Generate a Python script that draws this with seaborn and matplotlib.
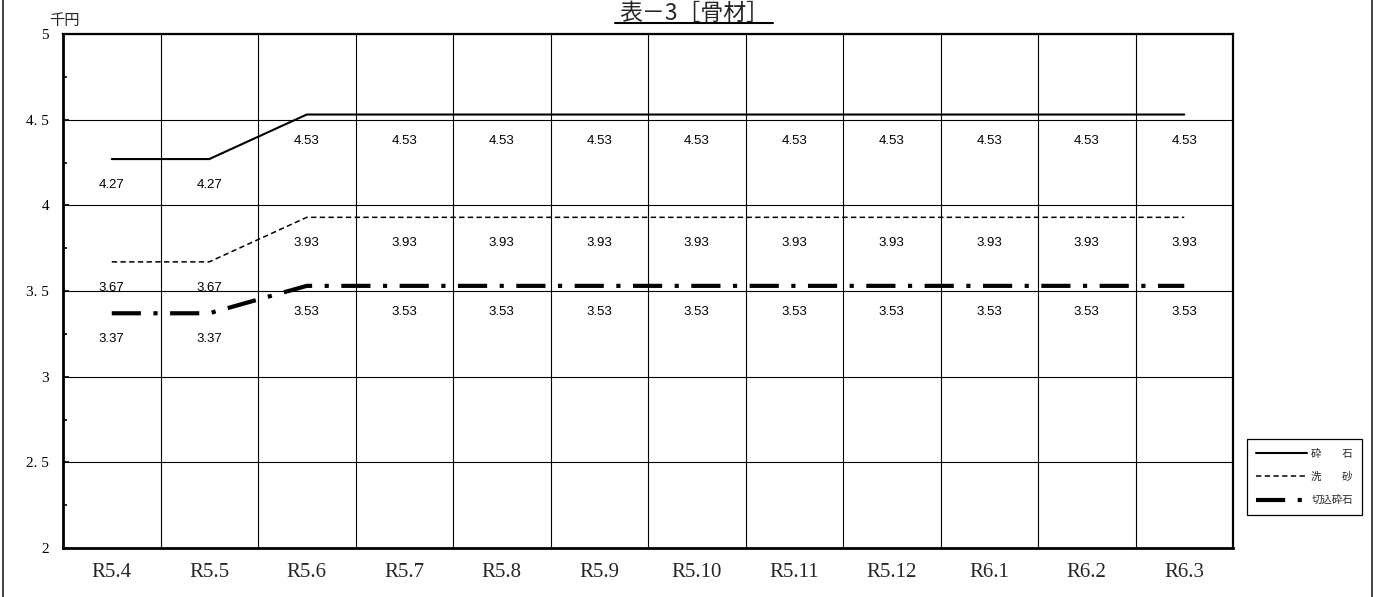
import matplotlib
matplotlib.use("Agg")
import matplotlib.pyplot as plt
from matplotlib.lines import Line2D
from matplotlib.font_manager import FontProperties
from matplotlib.ticker import FixedLocator
import pandas as pd
import seaborn as sns

# ---- data ----
months = ["R5.4", "R5.5", "R5.6", "R5.7", "R5.8", "R5.9",
          "R5.10", "R5.11", "R5.12", "R6.1", "R6.2", "R6.3"]
saiseki = [4.27, 4.27, 4.53, 4.53, 4.53, 4.53, 4.53, 4.53, 4.53, 4.53, 4.53, 4.53]
arasuna = [3.67, 3.67, 3.93, 3.93, 3.93, 3.93, 3.93, 3.93, 3.93, 3.93, 3.93, 3.93]
kirikomi = [3.37, 3.37, 3.53, 3.53, 3.53, 3.53, 3.53, 3.53, 3.53, 3.53, 3.53, 3.53]
series_names = ["砕　　石", "洗　　砂", "切込砕石"]
y_ticks = [2, 2.5, 3, 3.5, 4, 4.5, 5]
y_tick_labels = ["2", "2. 5", "3", "3. 5", "4", "4. 5", "5"]
title_text = "表－3［骨材］"
unit_text = "千円"

frames = []
for name, vals in zip(series_names, [saiseki, arasuna, kirikomi]):
    frames.append(pd.DataFrame({"pos": range(len(months)), "value": vals,
                                "series": name}))
df = pd.concat(frames, ignore_index=True)

sns.set_style("ticks")
plt.rcParams["font.family"] = ["Noto Sans CJK JP", "DejaVu Sans"]

W, H = 1380, 597
fig = plt.figure(figsize=(W / 100, H / 100), dpi=100)
ax = fig.add_axes([63 / W, 1 - 548 / H, (1233 - 63) / W, (548 - 34) / H])

line_styles = {
    series_names[0]: dict(lw=1.5, linestyle="-"),
    series_names[1]: dict(lw=1.1, linestyle=(0, (3.5, 2.2))),
    series_names[2]: dict(lw=3.0, linestyle=(0, (7, 3, 1, 3))),
}

for name in series_names:
    sub = df[df["series"] == name]
    sns.lineplot(data=sub, x="pos", y="value", ax=ax, color="black",
                 label=name, sort=False, **line_styles[name])
    for p, v in zip(sub["pos"], sub["value"]):
        ax.annotate(f"{v:.2f}", (p, v), xytext=(0, -26),
                    textcoords="offset pixels", ha="center", va="center",
                    fontsize=9.5, family="Liberation Sans", color="black")

ax.set_xlim(-0.5, len(months) - 0.5)
ax.set_ylim(2, 5)
ax.set_xlabel("")
ax.set_ylabel("")

# x axis: labels at category centres, grid at category boundaries
ax.set_xticks(range(len(months)))
ax.set_xticklabels(months, family="Liberation Serif", fontsize=15)
ax.xaxis.set_minor_locator(FixedLocator([i + 0.5 for i in range(len(months) - 1)]))
ax.tick_params(axis="x", which="major", length=0, pad=11)
ax.tick_params(axis="x", which="minor", length=0)
ax.grid(axis="x", which="minor", color="black", lw=0.8)

# y axis
ax.set_yticks(y_ticks)
ax.set_yticklabels(y_tick_labels, family="Liberation Serif", fontsize=11)
ax.yaxis.set_minor_locator(FixedLocator([2.25, 2.75, 3.25, 3.75, 4.25, 4.75]))
ax.tick_params(axis="y", which="major", direction="in", length=4, width=1.2,
               pad=10, colors="black")
ax.tick_params(axis="y", which="minor", direction="in", length=3, width=1.2,
               colors="black")
ax.grid(axis="y", which="major", color="black", lw=0.8)
ax.set_axisbelow(True)

for side in ["left", "right", "top", "bottom"]:
    ax.spines[side].set_visible(True)
    ax.spines[side].set_color("black")
    ax.spines[side].set_linewidth(1.6)
ax.spines["left"].set_linewidth(2.0)
ax.spines["bottom"].set_linewidth(2.0)

# legend at the lower right, outside the plot
handles, labels = ax.get_legend_handles_labels()
leg = ax.legend(handles, labels, loc="center",
                bbox_to_anchor=(1304.5 / W, 1 - 477 / H),
                bbox_transform=fig.transFigure, frameon=True, fancybox=False,
                edgecolor="black", framealpha=1,
                prop=FontProperties(family="Noto Sans CJK JP", size=7.5),
                handlelength=4.9, labelspacing=1.25, handletextpad=0.4,
                borderpad=0.9, borderaxespad=0)
leg.get_frame().set_linewidth(0.9)

# unit label and title
fig.text(64 / W, 1 - 20 / H, unit_text, ha="center", va="center", fontsize=11,
         family="Noto Sans CJK JP")
fig.text(694 / W, 1 - 20 / H, title_text, ha="center", va="baseline",
         fontsize=16.5, family="Noto Sans CJK JP")
fig.add_artist(Line2D([615 / W, 773 / W], [1 - 23 / H, 1 - 23 / H],
                      transform=fig.transFigure, color="black", lw=1.5))

# outer frame lines
for xp in (3, 1372):
    fig.add_artist(Line2D([xp / W, xp / W], [0, 1], transform=fig.transFigure,
                          color="#222222", lw=1.2))

fig.savefig("out.png", dpi=100)
